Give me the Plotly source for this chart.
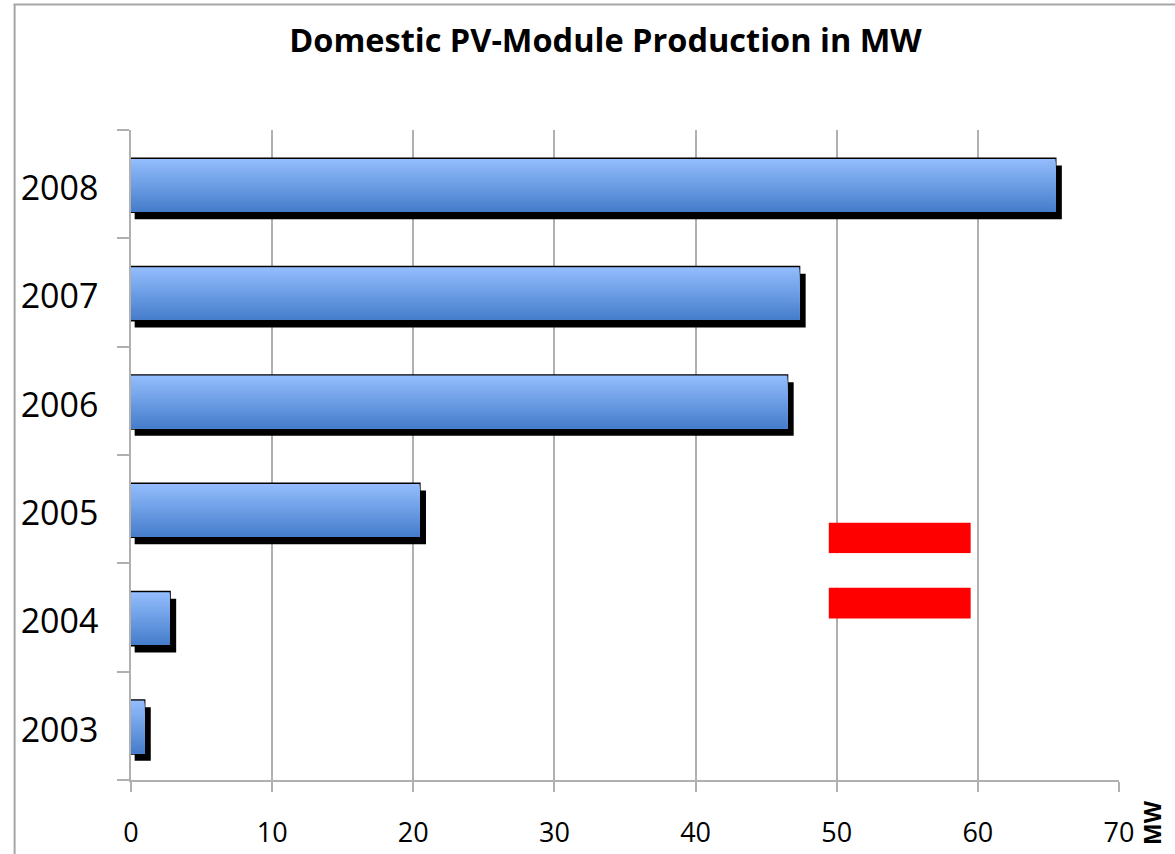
import plotly.graph_objects as go

YEARS = ["2003", "2004", "2005", "2006", "2007", "2008"]
PRODUCTION_MW = [0.95, 2.75, 20.45, 46.5, 47.35, 65.5]
X_TICKS = [0, 10, 20, 30, 40, 50, 60, 70]

TITLE = "Domestic PV-Module Production in MW"
UNIT = "MW"

W, H = 1175, 854
L, R, T, B = 130.5, 1119.5, 130, 780.5
FONT = "Open Sans"
GRID = "#b0b0b0"
BAR_BOTTOM = -0.258
BAR_HEIGHT = 0.495
TOP_RGB = (146, 188, 252)
BOTTOM_RGB = (70, 126, 204)
BANDS = 24
SHADOW_BASE = 0.26
SHADOW_EXTRA = 0.19
SHADOW_DROP = 0.065


def px_x(p):
    return (p - L) / (R - L)


def px_y(p):
    return 1 - (p - T) / (B - T)


fig = go.Figure()

# drop shadow
fig.add_bar(
    y=YEARS, x=[v + SHADOW_EXTRA for v in PRODUCTION_MW], base=SHADOW_BASE, orientation="h",
    offset=BAR_BOTTOM - SHADOW_DROP, width=BAR_HEIGHT,
    marker=dict(color="#000000", line=dict(width=0)), hoverinfo="skip",
)
# dark outline
fig.add_bar(
    y=YEARS, x=PRODUCTION_MW, orientation="h",
    offset=BAR_BOTTOM, width=BAR_HEIGHT,
    marker=dict(color="#4a80cc", line=dict(color="#000000", width=2)),
    hoverinfo="skip",
)
# vertical gradient, painted as progressively shorter bars
for i in range(BANDS):
    t = i / (BANDS - 1)
    rgb = [round(a + (b - a) * t) for a, b in zip(TOP_RGB, BOTTOM_RGB)]
    fig.add_bar(
        y=YEARS, x=PRODUCTION_MW, orientation="h",
        offset=BAR_BOTTOM + 0.004, width=(BAR_HEIGHT - 0.008) * (1 - i / BANDS),
        marker=dict(color=f"rgb({rgb[0]},{rgb[1]},{rgb[2]})", line=dict(width=0)),
        hoverinfo="skip",
    )

shapes = [
    # outer chart frame (only its left and top edges are in view)
    dict(type="line", xref="paper", yref="paper", x0=px_x(14), x1=px_x(14),
         y0=px_y(4), y1=px_y(H + 5), line=dict(color="#a6a6a6", width=2), layer="below"),
    dict(type="line", xref="paper", yref="paper", x0=px_x(13), x1=px_x(W + 5),
         y0=px_y(4.5), y1=px_y(4.5), line=dict(color="#a6a6a6", width=2), layer="below"),
    # Austrian flag
    dict(type="rect", xref="paper", yref="paper", x0=px_x(829), x1=px_x(971),
         y0=px_y(523), y1=px_y(553.5), fillcolor="#ff0000", line=dict(width=0), layer="above"),
    dict(type="rect", xref="paper", yref="paper", x0=px_x(829), x1=px_x(971),
         y0=px_y(553.5), y1=px_y(588), fillcolor="#ffffff", line=dict(width=0), layer="above"),
    dict(type="rect", xref="paper", yref="paper", x0=px_x(829), x1=px_x(971),
         y0=px_y(588), y1=px_y(619), fillcolor="#ff0000", line=dict(width=0), layer="above"),
]

fig.update_layout(
    width=W, height=H,
    margin=dict(l=L, r=W - R, t=T, b=H - B, autoexpand=False),
    paper_bgcolor="#ffffff", plot_bgcolor="#ffffff",
    barmode="overlay", showlegend=False,
    font=dict(family=FONT, color="#000000"),
    title=dict(text=f"<b>{TITLE}</b>", x=605.5 / W, xanchor="center", y=1 - 41 / H,
               yanchor="middle", font=dict(family=FONT, size=32.5, color="#000000")),
    shapes=shapes,
    annotations=[dict(
        text=f"<b>{UNIT}</b>", xref="paper", yref="paper",
        x=px_x(1153), y=px_y(823), xanchor="center", yanchor="middle",
        textangle=-90, showarrow=False, font=dict(family=FONT, size=23, color="#000000"),
    )],
)
fig.update_xaxes(
    range=[0, 70], tickvals=X_TICKS, ticktext=[str(v) for v in X_TICKS],
    showgrid=True, gridcolor=GRID, gridwidth=1.5, zeroline=False,
    showline=True, linecolor=GRID, linewidth=1.5,
    ticks="outside", ticklen=10, tickcolor=GRID, tickwidth=1.5,
    tickfont=dict(family=FONT, size=27, color="#000000"), ticklabelstandoff=18,
)
fig.update_yaxes(
    type="category", categoryorder="array", categoryarray=YEARS,
    tickson="boundaries", showgrid=False, zeroline=False,
    showline=True, linecolor=GRID, linewidth=1.5,
    ticks="outside", ticklen=12, tickcolor=GRID, tickwidth=1.5,
    tickfont=dict(family=FONT, size=34, color="#000000"), ticklabelstandoff=24,
    ticklabelshift=4,
)

fig.write_html(
    "out.html",
    config={"displayModeBar": False},
    post_script="document.body.style.margin='0';document.documentElement.style.overflow='hidden';",
)
